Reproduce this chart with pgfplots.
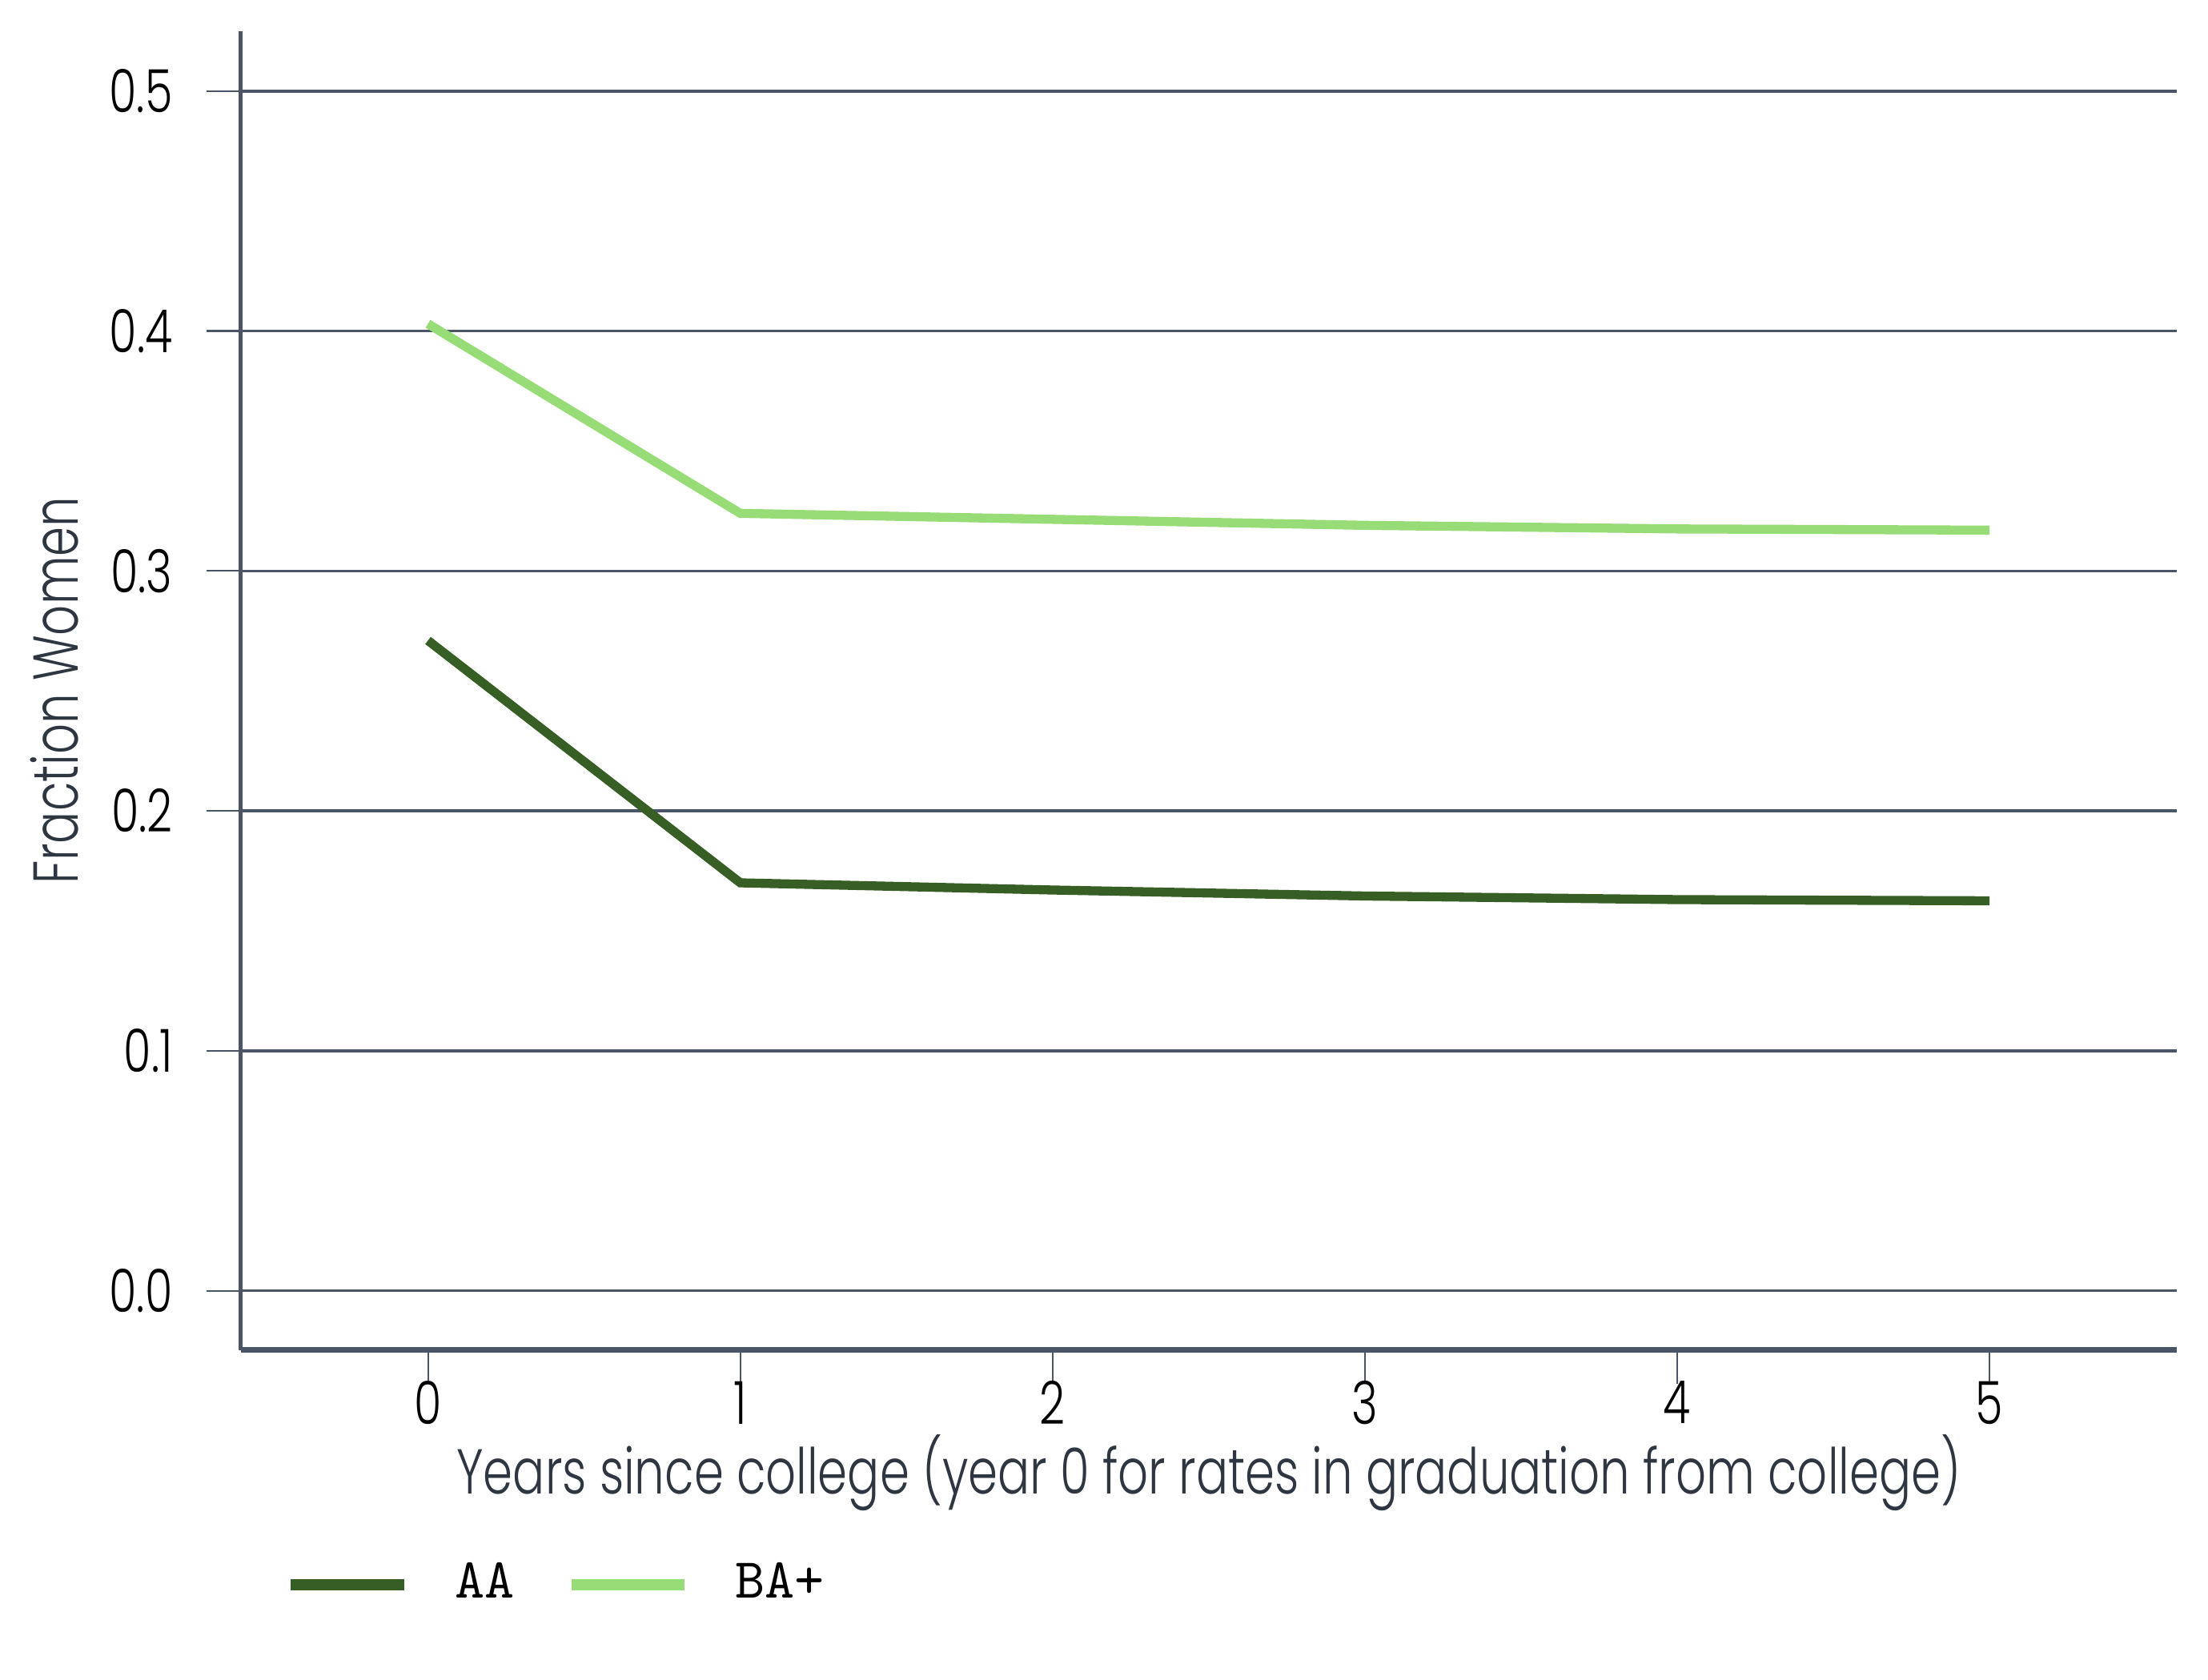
\documentclass[border=0pt]{standalone}
\usepackage{fontspec}
\setmainfont{Poppins}[UprightFont=* Light, FakeStretch=0.75]
\usepackage{pgfplots}
\pgfplotsset{compat=1.18}
\definecolor{aa}{HTML}{375E24}
\definecolor{ba}{HTML}{98DC78}
\definecolor{gridc}{HTML}{4A5668}
\definecolor{labc}{HTML}{2E3642}
\begin{document}
\begin{tikzpicture}
\path[use as bounding box] (-42.5pt,-58.25pt) rectangle (347.5pt,238.5pt);
\begin{axis}[
  at={(0,0)}, anchor=south west,
  scale only axis, width=342pt, height=233pt,
  xmin=-0.6, xmax=5.6, ymin=-0.0247, ymax=0.525,
  axis x line*=bottom, axis y line*=left,
  axis line style={gridc, line width=0.6pt, -},
  x axis line style={line width=0.9pt},
  xtick={0,1,2,3,4,5}, ytick={0,0.1,0.2,0.3,0.4,0.5},
  ymajorgrids, major grid style={gridc, line width=0.5pt},
  tick align=outside, major tick length=6pt,
  tick style={gridc, line width=0.3pt},
  yticklabel style={/pgf/number format/.cd, fixed, fixed zerofill, precision=1, /tikz/.cd, xshift=-2.5pt},
  xticklabel style={yshift=4pt},
  ticklabel style={font=\fontsize{10.5}{12}\selectfont, black},
  /pgf/number format/assume math mode=true,
  xlabel={Years since college (year 0 for rates in graduation from college)},
  ylabel={Fraction Women},
  label style={font=\fontsize{11.2}{13}\selectfont, text=labc},
  xlabel style={at={(axis description cs:0.5,0)}, anchor=center, yshift=-21.75pt},
  ylabel style={at={(axis description cs:-0.096,0.5)}, anchor=center},
  legend style={at={(axis description cs:0.0225,0)}, anchor=west, yshift=-41.5pt,
    draw=none, fill=none, inner sep=0pt,
    font=\ttfamily\fontsize{10}{12}\selectfont,
    nodes={inner sep=0pt},
    /tikz/every odd column/.append style={column sep=8pt},
    /tikz/every even column/.append style={column sep=9pt}},
  legend columns=2,
  legend image code/.code={\draw[#1, line width=2pt] (0pt,0pt) -- (20pt,0pt);},
]
\addplot[aa, line width=1.6pt] coordinates {(0,0.271) (1,0.170) (2,0.167) (3,0.1645) (4,0.163) (5,0.1625)};
\addlegendentry{AA}
\addplot[ba, line width=1.6pt] coordinates {(0,0.403) (1,0.324) (2,0.3215) (3,0.319) (4,0.3175) (5,0.317)};
\addlegendentry{BA+}
\end{axis}
\end{tikzpicture}
\end{document}
